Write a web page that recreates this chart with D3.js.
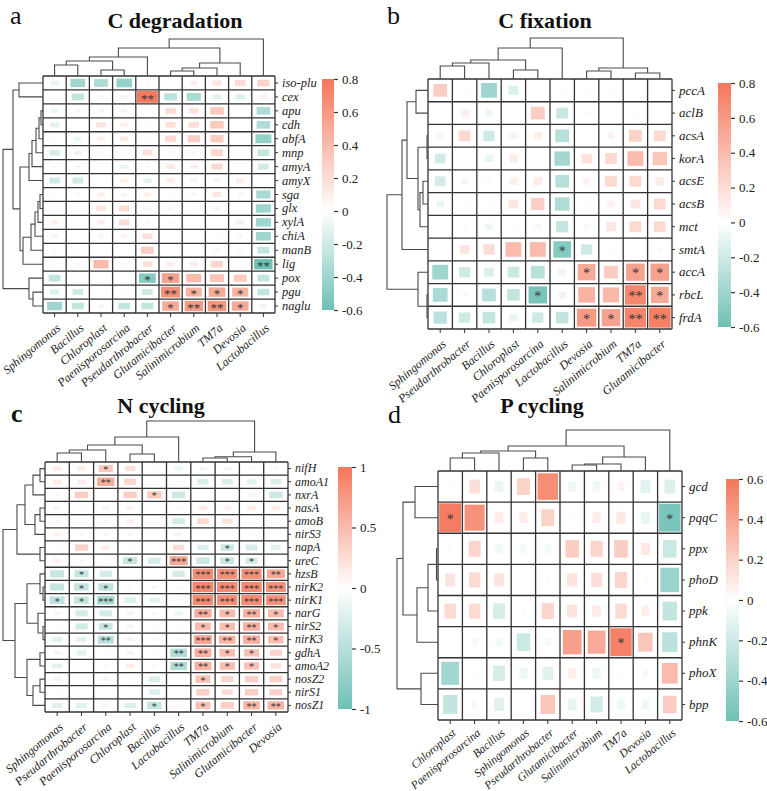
<!DOCTYPE html>
<html>
<head>
<meta charset="utf-8">
<script src="https://cdn.jsdelivr.net/npm/d3@7"></script>
<style>
  body { margin: 0; background: #fff; }
  text { font-family: "Liberation Serif", "Times New Roman", serif; }
</style>
</head>
<body>
<div id="chart"></div>
<script>
// ---------- a: C degradation
const aCols = ["Sphingomonas","Bacillus","Chloroplast","Paenisporosarcina","Pseudarthrobacter","Glutamicibacter","Salinimicrobium","TM7a","Devosia","Lactobacillus"];
const aRows = ["iso-plu","cex","apu","cdh","abfA","mnp","amyA","amyX","sga","glx","xylA","chiA","manB","lig","pox","pgu","naglu"];
const aVals = [
  [-0.10,-0.39,-0.34,-0.43,-0.04,-0.03,0.10,0.15,0.20,0.26],
  [-0.02,-0.26,-0.06,0.08,0.78,-0.28,-0.35,-0.13,-0.15,0.10],
  [-0.10,-0.05,0.07,0.07,0.00,0.20,0.17,0.32,0.03,-0.33],
  [-0.13,-0.02,0.16,0.10,-0.03,0.18,0.20,0.32,0.03,-0.33],
  [-0.03,-0.09,0.10,0.12,-0.03,0.22,0.28,0.30,0.02,-0.45],
  [-0.18,-0.10,0.04,0.02,0.18,0.05,0.06,0.25,-0.02,-0.25],
  [-0.04,0.06,0.02,-0.10,-0.04,0.13,0.10,0.22,0.04,-0.20],
  [-0.20,-0.20,-0.02,0.10,-0.12,0.12,0.08,0.08,0.12,-0.02],
  [-0.03,-0.04,0.10,0.08,0.10,0.03,0.06,0.14,-0.06,-0.36],
  [0.02,-0.02,0.16,0.20,0.07,0.07,0.04,0.08,-0.02,-0.40],
  [0.10,0.02,0.10,0.20,0.05,0.04,0.01,0.02,-0.10,-0.40],
  [0.08,-0.02,0.06,0.08,0.18,0.00,0.00,0.04,-0.05,-0.40],
  [0.05,-0.04,0.00,0.02,0.28,-0.02,0.01,0.06,-0.05,-0.25],
  [-0.02,0.06,0.40,0.05,0.17,0.12,0.12,0.25,-0.02,-0.60],
  [-0.25,0.00,0.02,0.00,-0.50,0.55,0.40,0.35,0.30,-0.25],
  [-0.15,-0.20,-0.02,-0.03,-0.20,0.65,0.45,0.50,0.45,-0.25],
  [-0.40,-0.25,-0.06,-0.25,-0.25,0.50,0.60,0.62,0.50,-0.08]
];
const aSig = ["0000000000","0000200000","0000000000","0000000000","0000000000","0000000000",
  "0000000000","0000000000","0000000000","0000000000","0000000000","0000000000","0000000000",
  "0000000002","0000110000","0000021110","0000012210"];
// dendrograms: [mergeHeight, left, right], leaves = index
const aColTree = [37, [28, [19, [15, [11, 0, 1], [6, 2, 3]], 4], [13, [8, [5, 5, 6], 7], 8]], 9];
const aRowTree = [40,
  [30, [24, 0, 1], [23, [14, [11, [7, [4, [2, 2, 3], 4], 5], 6], 7], [20, [12, [8, [5, [3, 8, 9], 10], 11], 12], 13]]],
  [14, 14, [10, 15, 16]]];
const aTicks = [0.8, 0.6, 0.4, 0.2, 0, -0.2, -0.4, -0.6];

// ---------- b: C fixation
const bCols = ["Sphingomonas","Pseudarthrobacter","Bacillus","Chloroplast","Paenisporosarcina","Lactobacillus","Devosia","Salinimicrobium","TM7a","Glutamicibacter"];
const bRows = ["pccA","aclB","acsA","korA","acsE","acsB","mct","smtA","accA","rbcL","frdA"];
const bVals = [
  [0.30,-0.03,-0.40,-0.15,-0.02,-0.03,0.03,-0.03,-0.02,-0.02],
  [0.00,0.10,-0.08,-0.01,0.30,-0.22,-0.03,-0.02,0.03,-0.02],
  [-0.07,0.22,-0.20,0.08,0.10,-0.30,0.00,0.08,0.26,0.22],
  [-0.18,0.02,-0.10,0.12,0.01,-0.38,0.17,0.22,0.40,0.33],
  [-0.18,-0.06,-0.04,0.10,0.12,-0.30,0.08,0.22,0.22,0.12],
  [-0.08,-0.03,-0.03,0.14,0.28,-0.33,0.03,0.08,0.14,0.22],
  [-0.02,-0.03,-0.08,-0.03,0.06,-0.24,0.05,0.15,0.22,0.22],
  [0.00,0.15,0.20,0.40,0.40,-0.50,-0.20,-0.03,0.00,-0.04],
  [-0.40,-0.20,-0.15,-0.22,-0.30,-0.08,0.50,0.30,0.55,0.55],
  [-0.35,-0.04,-0.30,-0.25,-0.55,-0.08,0.45,0.42,0.70,0.50],
  [-0.28,-0.20,-0.25,-0.10,-0.20,-0.25,0.60,0.55,0.72,0.75]
];
const bSig = ["0000000000","0000000000","0000000000","0000000000","0000000000","0000000000",
  "0000000000","0000010000","0000001011","0000100021","0000001122"];
const bColTree = [41, [31, [19, [16, [13, 0, 1], 2], [9, 3, 4]], 5], [11, [8, 6, 7], [6, 8, 9]]];
const bRowTree = [41, [26, [21, [12, 0, 1], [10, [1, 2, 3], [8, [5, 4, 5], 6]]], 7], [10, 8, [1, 9, 10]]];
const bTicks = [0.8, 0.6, 0.4, 0.2, 0, -0.2, -0.4, -0.6];

// ---------- c: N cycling
const cCols = ["Sphingomonas","Pseudarthrobacter","Paenisporosarcina","Chloroplast","Bacillus","Lactobacillus","TM7a","Salinimicrobium","Glutamicibacter","Devosia"];
const cRows = ["nifH","amoA1","nxrA","nasA","amoB","nirS3","napA","ureC","hzsB","nirK2","nirK1","narG","nirS2","nirK3","gdhA","amoA2","nosZ2","nirS1","nosZ1"];
const cVals = [
  [0.15,0.15,0.40,0.22,-0.05,-0.15,-0.10,-0.10,-0.07,-0.07],
  [0.15,0.15,0.60,0.30,0.02,-0.05,-0.25,-0.25,-0.20,-0.25],
  [0.07,0.35,0.00,0.35,0.40,-0.35,0.03,-0.02,-0.10,-0.35],
  [-0.10,-0.05,0.10,0.10,0.00,-0.07,0.15,0.12,0.15,0.15],
  [-0.08,0.03,0.08,0.12,0.02,-0.30,0.27,0.22,-0.03,-0.02],
  [0.12,0.07,0.08,0.08,0.00,-0.12,0.04,0.04,0.06,-0.02],
  [0.05,0.33,0.13,-0.04,0.00,0.25,-0.25,-0.35,-0.28,-0.20],
  [0.12,0.07,-0.05,-0.40,-0.30,0.65,-0.35,-0.38,-0.30,-0.03],
  [-0.40,-0.40,-0.30,0.00,-0.03,-0.30,0.85,0.82,0.82,0.65],
  [-0.40,-0.42,-0.45,-0.07,-0.08,-0.07,0.88,0.85,0.85,0.80],
  [-0.45,-0.42,-0.60,-0.25,-0.20,-0.05,0.85,0.83,0.85,0.80],
  [-0.10,-0.30,-0.30,-0.10,-0.07,-0.15,0.60,0.50,0.58,0.50],
  [-0.05,-0.30,-0.38,-0.10,-0.05,-0.05,0.50,0.48,0.58,0.50],
  [-0.20,-0.20,-0.50,-0.12,-0.05,-0.07,0.65,0.55,0.58,0.48],
  [-0.10,-0.20,-0.04,0.10,0.05,-0.55,0.58,0.48,0.45,0.30],
  [-0.20,-0.03,-0.07,0.15,0.06,-0.55,0.57,0.47,0.45,0.22],
  [-0.13,0.00,-0.10,-0.05,-0.25,-0.04,0.45,0.30,0.35,0.33],
  [-0.05,0.00,-0.03,0.00,-0.25,0.00,0.35,0.25,0.35,0.33],
  [-0.22,-0.22,-0.10,-0.25,-0.42,0.06,0.45,0.35,0.55,0.55]
];
const cSig = ["0010000000","0020000000","0000100000","0000000000","0000000000","0000000000",
  "0000000100","0001030110","0100003332","0110003333","1130003333","0000002121","0010001121",
  "0020003221","0000022110","0000022110","0000001000","0000000000","0000101022"];
const cColTree = [41, [25, [17, [12, [9, 0, 1], 2], [8, 3, 4]], 5], [10, [5.3, [4, 6, 7], 8], 9]];
const cRowTree = [42,
  [28, [20, [12, [5, 0, 1], 2], [10, [5, 3, 4], 5]], [5, 6, 7]],
  [30, [18, [5, 8, [2, 9, 10]], [7, 11, [2, 12, 13]]], [18, [5, 14, 15], [12, [5, 16, 17], 18]]]];
const cTicks = [1, 0.5, 0, -0.5, -1];

// ---------- d: P cycling
const dCols = ["Chloroplast","Paenisporosarcina","Bacillus","Sphingomonas","Pseudarthrobacter","Glutamicibacter","Salinimicrobium","TM7a","Devosia","Lactobacillus"];
const dRows = ["gcd","pqqC","ppx","phoD","ppk","phnK","phoX","bpp"];
const dVals = [
  [0.02,0.14,-0.09,0.20,0.50,-0.07,-0.07,0.06,-0.12,-0.14],
  [0.58,0.48,0.08,0.08,0.20,0.02,0.08,0.10,-0.10,-0.55],
  [0.02,0.18,-0.06,-0.05,-0.05,0.22,0.18,0.22,0.10,-0.22],
  [0.12,0.16,0.12,0.00,-0.02,0.12,0.14,0.18,-0.03,-0.42],
  [0.16,0.16,-0.17,-0.03,0.18,0.12,0.09,0.16,0.07,-0.25],
  [-0.01,-0.04,-0.06,-0.22,-0.05,0.42,0.38,0.55,0.25,-0.28],
  [-0.38,-0.02,-0.17,-0.08,-0.13,0.08,-0.08,0.02,0.04,0.30],
  [-0.25,0.04,-0.12,-0.01,0.25,-0.10,-0.18,-0.07,-0.07,0.22]
];
const dSig = ["0000000000","1000000001","0000000000","0000000000","0000000000","0000000100","0000000000","0000000000"];
const dColTree = [41, [25, [20, [18, [13, 0, 1], 2], [13, 3, 4]], [14, [7, [6, 5, 6], 7], 8]], 9];
const dRowTree = [41, [35, [23, 0, 1], [21, [10, [1.5, 2, 3], 4], 5]], [17, 6, 7]];
const dTicks = [0.6, 0.4, 0.2, 0, -0.2, -0.4, -0.6];

const CORAL = "#F4775A", TEAL = "#6EC0B5", LINE = "#333";

const svg = d3.select("#chart").append("svg")
  .attr("width", 767).attr("height", 791)
  .style("background", "#fff");

function drawTree(g, tree, leafPos, hScale, orient) {
  function rec(n) {
    if (typeof n === "number") return { p: leafPos(n), h: 0 };
    const L = rec(n[1]), R = rec(n[2]);
    const hv = hScale(n[0]);
    const d = orient === "top"
      ? `M${L.p},${hScale(L.h)}V${hv}H${R.p}V${hScale(R.h)}`
      : `M${hScale(L.h)},${L.p}H${hv}V${R.p}H${hScale(R.h)}`;
    g.append("path").attr("d", d).attr("fill", "none")
      .attr("stroke", "#4a4a4a").attr("stroke-width", 1.1);
    return { p: (L.p + R.p) / 2, h: n[0] };
  }
  rec(tree);
}

function panel(c) {
  const g = svg.append("g");
  const x = d3.scaleBand().domain(d3.range(c.cols.length)).range([c.x0, c.x1]);
  const y = d3.scaleBand().domain(d3.range(c.rows.length)).range([c.y0, c.y1]);
  const [lo, hi] = c.dom;
  const color = d3.scaleLinear().domain([lo, 0, hi]).range([TEAL, "#ffffff", CORAL]).clamp(true);
  const size = d3.scaleSqrt().domain([0, Math.max(-lo, hi)]).range([0, 1]).clamp(true);
  const bw = x.bandwidth(), bh = y.bandwidth();

  const cells = [];
  c.vals.forEach((row, i) => row.forEach((v, j) => cells.push({ i, j, v, s: +c.sig[i][j] })));

  g.selectAll("rect.mark").data(cells).join("rect")
    .attr("class", "mark")
    .attr("x", d => x(d.j) + bw / 2 - (bw - 2) * size(Math.abs(d.v)) / 2)
    .attr("y", d => y(d.i) + bh / 2 - (bh - 2) * size(Math.abs(d.v)) / 2)
    .attr("width", d => (bw - 2) * size(Math.abs(d.v)))
    .attr("height", d => (bh - 2) * size(Math.abs(d.v)))
    .attr("fill", d => color(d.v));

  // grid
  g.selectAll("line.v").data(d3.range(c.cols.length + 1)).join("line")
    .attr("x1", k => c.x0 + k * bw).attr("x2", k => c.x0 + k * bw)
    .attr("y1", c.y0).attr("y2", c.y1)
    .attr("stroke", LINE).attr("stroke-width", 1.3);
  g.selectAll("line.h").data(d3.range(c.rows.length + 1)).join("line")
    .attr("y1", k => c.y0 + k * bh).attr("y2", k => c.y0 + k * bh)
    .attr("x1", c.x0).attr("x2", c.x1)
    .attr("stroke", LINE).attr("stroke-width", 1.3);

  // stars
  g.selectAll("text.star").data(cells.filter(d => d.s > 0)).join("text")
    .attr("x", d => x(d.j) + bw / 2)
    .attr("y", d => y(d.i) + bh / 2 + c.starSize * 0.45)
    .attr("text-anchor", "middle")
    .style("font-size", c.starSize + "px")
    .attr("fill", "#333")
    .text(d => "*".repeat(d.s));

  // row axis (right)
  const ra = g.append("g").attr("transform", `translate(${c.x1},0)`)
    .call(d3.axisRight(y).tickSize(3).tickPadding(4).tickFormat(i => c.rows[i]));
  ra.select(".domain").remove();
  ra.selectAll("line").attr("stroke", "#333");
  ra.selectAll("text").style("font-size", c.rowFont + "px").style("font-style", "italic").attr("fill", "#222");

  // column axis (bottom)
  const ca = g.append("g").attr("transform", `translate(0,${c.y1})`)
    .call(d3.axisBottom(x).tickSize(4).tickFormat(i => c.cols[i]));
  ca.select(".domain").remove();
  ca.selectAll("line").attr("stroke", "#333");
  ca.selectAll("text")
    .attr("x", 0).attr("y", 0).attr("dy", "0.35em")
    .attr("transform", `translate(4,${c.colDrop}) rotate(-40)`)
    .attr("text-anchor", "end")
    .style("font-size", c.colFont + "px").style("font-style", "italic").attr("fill", "#222");

  // dendrograms
  const colH = d3.scaleLinear().domain([0, c.colTree[0]]).range([c.y0, c.colTop]);
  drawTree(g, c.colTree, i => x(i) + bw / 2, colH, "top");
  const rowH = d3.scaleLinear().domain([0, c.rowTree[0]]).range([c.x0, c.rowLeft]);
  drawTree(g, c.rowTree, i => y(i) + bh / 2, rowH, "left");

  // colour bar
  const gid = "grad" + c.letter;
  const grad = svg.append("defs").append("linearGradient").attr("id", gid)
    .attr("x1", 0).attr("x2", 0).attr("y1", 0).attr("y2", 1);
  grad.append("stop").attr("offset", 0).attr("stop-color", CORAL);
  grad.append("stop").attr("offset", hi / (hi - lo)).attr("stop-color", "#ffffff");
  grad.append("stop").attr("offset", 1).attr("stop-color", TEAL);
  g.append("rect").attr("x", c.cb[0]).attr("y", c.cb[1])
    .attr("width", c.cb[2]).attr("height", c.cb[3] - c.cb[1])
    .attr("fill", `url(#${gid})`);
  const cbs = d3.scaleLinear().domain([lo, hi]).range([c.cb[3], c.cb[1]]);
  const cax = g.append("g").attr("transform", `translate(${c.cb[0] + c.cb[2]},0)`)
    .call(d3.axisRight(cbs).tickValues(c.ticks).tickSize(4).tickPadding(4).tickFormat(v => String(v)));
  cax.select(".domain").remove();
  cax.selectAll("line").attr("stroke", "#333").attr("stroke-width", 1.2);
  cax.selectAll("text").style("font-size", "13px").attr("fill", "#222");

  // title and letter
  g.append("text").attr("x", c.titleX).attr("y", c.titleY).attr("text-anchor", "middle")
    .style("font-size", "22px").style("font-weight", "bold").attr("fill", "#111").text(c.title);
  g.append("text").attr("x", c.letterX).attr("y", c.letterY)
    .style("font-size", "26px").style("font-weight", c.letterBold ? "bold" : "normal")
    .attr("fill", "#111").text(c.letter);
}

panel({ cols: aCols, rows: aRows, vals: aVals, sig: aSig, colTree: aColTree, rowTree: aRowTree,
  dom: [-0.6, 0.8], ticks: aTicks, x0: 43, x1: 275, y0: 76, y1: 313, colTop: 39, rowLeft: 3,
  cb: [322, 79, 12, 310], title: "C degradation", titleX: 175, titleY: 28, letter: "a", letterX: 10, letterY: 24,
  rowFont: 12.5, colFont: 12, colDrop: 13, starSize: 13 });

panel({ cols: bCols, rows: bRows, vals: bVals, sig: bSig, colTree: bColTree, rowTree: bRowTree,
  dom: [-0.6, 0.8], ticks: bTicks, x0: 428, x1: 672, y0: 79, y1: 329, colTop: 38, rowLeft: 387,
  cb: [718, 83, 13, 327], title: "C fixation", titleX: 545, titleY: 28, letter: "b", letterX: 387, letterY: 24,
  rowFont: 13, colFont: 12, colDrop: 13, starSize: 14 });

panel({ cols: cCols, rows: cRows, vals: cVals, sig: cSig, colTree: cColTree, rowTree: cRowTree,
  dom: [-1, 1], ticks: cTicks, x0: 45, x1: 288, y0: 462, y1: 712, colTop: 421, rowLeft: 3,
  cb: [338, 467, 14, 709], title: "N cycling", titleX: 161, titleY: 413, letter: "c", letterX: 11, letterY: 422,
  letterBold: true, rowFont: 12, colFont: 12, colDrop: 13, starSize: 10 });

panel({ cols: dCols, rows: dRows, vals: dVals, sig: dSig, colTree: dColTree, rowTree: dRowTree,
  dom: [-0.6, 0.6], ticks: dTicks, x0: 438, x1: 682, y0: 471, y1: 720, colTop: 430, rowLeft: 397,
  cb: [726, 479, 13, 721], title: "P cycling", titleX: 542, titleY: 413, letter: "d", letterX: 388, letterY: 423,
  rowFont: 13, colFont: 11.5, colDrop: 11, starSize: 14 });
</script>
</body>
</html>
